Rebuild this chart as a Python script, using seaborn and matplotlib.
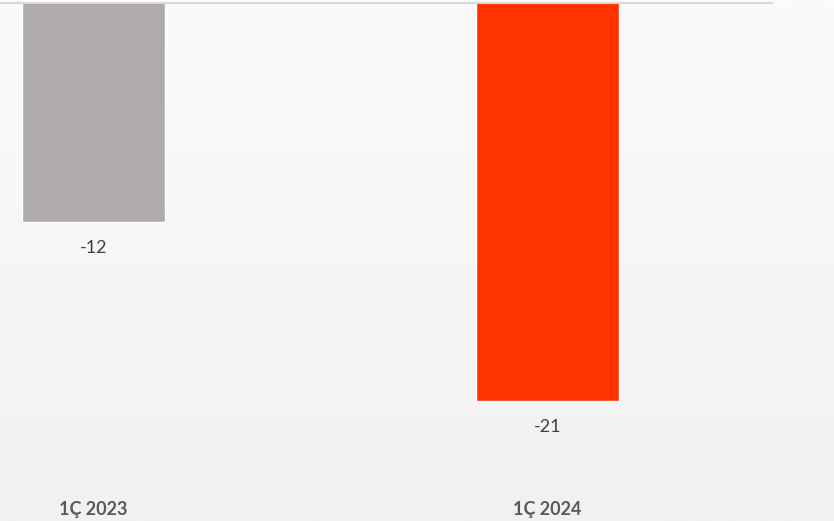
import matplotlib
matplotlib.use("Agg")
import matplotlib.pyplot as plt
import matplotlib.transforms as mtransforms
import seaborn as sns
import pandas as pd
import numpy as np

categories = ["1Ç 2023", "1Ç 2024"]
values = [-11.6, -21.0]
value_labels = ["-12", "-21"]
bar_colors = ["#AFABAB", "#FF3300"]

sns.set_theme(style="white")
plt.rcParams["font.family"] = ["Lato", "DejaVu Sans"]

df = pd.DataFrame({"cat": categories, "val": values})

fig = plt.figure(figsize=(8.34, 5.21), dpi=100)
fig.patch.set_facecolor("#f6f6f6")
# subtle background gradient
bg = fig.add_axes([0, 0, 1, 1], zorder=-10)
grad = np.linspace(0, 1, 256).reshape(-1, 1)
bg.imshow(grad, aspect="auto", cmap=matplotlib.colors.LinearSegmentedColormap.from_list(
    "g", ["#fbfbfb", "#f1f1f1"]), extent=[0, 1, 0, 1])
bg.axis("off")

ax = fig.add_axes([0, 1 - 490 / 521, 773 / 834, 488 / 521])
ax.patch.set_alpha(0)
sns.barplot(data=df, x="cat", y="val", hue="cat", palette=bar_colors,
            width=0.315, legend=False, ax=ax, saturation=1)
ax.set_xlim(-0.206, 1.497)
ax.set_ylim(-488 / 19, 0)
for s in ax.spines.values():
    s.set_visible(False)
ax.axhline(0, color="#d9d9d9", lw=2.2, zorder=5)
ax.set_yticks([])
ax.set_xlabel("")
ax.set_ylabel("")
ax.set_xticks(range(len(categories)))
ax.set_xticklabels(categories, fontsize=13, fontweight="bold", color="#595959")
ax.tick_params(axis="x", length=0, pad=8)

for i, (v, lab) in enumerate(zip(values, value_labels)):
    ax.annotate(lab, xy=(i, v), xytext=(0, -18.7), textcoords="offset points",
                ha="center", va="center", fontsize=13, color="#404040")

fig.savefig("out.png", dpi=100)
